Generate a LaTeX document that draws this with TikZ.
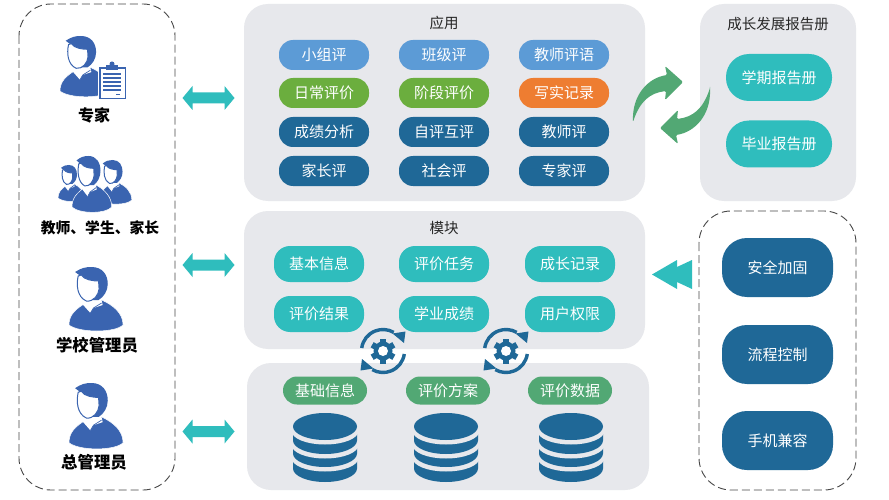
\documentclass[tikz,border=0pt]{standalone}
\usepackage{fontspec}
\setmainfont{Noto Sans CJK SC}
\definecolor{panelgrey}{HTML}{E7E8EC}
\definecolor{skyblue}{HTML}{5C9BD6}
\definecolor{leaf}{HTML}{6BAE3E}
\definecolor{amber}{HTML}{EE7D31}
\definecolor{deepblue}{HTML}{1F6897}
\definecolor{teal}{HTML}{2FBDBD}
\definecolor{moss}{HTML}{52A874}
\definecolor{people}{HTML}{3A64B0}
\tikzset{
  x=1pt,y=-1pt,
  panel/.style={fill=panelgrey,rounded corners=24pt},
  dashpanel/.style={draw=black!72,line width=0.9pt,dash pattern=on 8pt off 4pt,rounded corners=32pt},
  pill/.style={rounded corners=#1,text=white,font=\fontsize{15}{16}\selectfont,align=center,inner sep=0pt},
  smallpill/.style={pill=14pt,minimum width=90pt,minimum height=30pt},
  modpill/.style={pill=16pt,minimum width=90pt,minimum height=36pt,fill=teal},
  basepill/.style={pill=14pt,minimum width=84pt,minimum height=28pt,fill=moss},
  bigpill/.style={pill=25pt,minimum width=111pt,minimum height=59pt,fill=deepblue},
  reportpill/.style={pill=23pt,minimum width=106pt,minimum height=47pt,fill=teal},
  paneltitle/.style={text=black!85,font=\fontsize{14.5}{16}\selectfont,inner sep=0pt},
  role/.style={text=black,font=\fontsize{16.4}{18}\bfseries\selectfont,inner sep=0pt},
  person/.pic={
    \fill[people,draw=white,line width=0.5pt] (0,58) .. controls (0,48) and (6,42) .. (18,35) -- (32,33)
      .. controls (43,38) and (53,46) .. (53,58) .. controls (45,66) and (10,66) .. (0,58) -- cycle;
    \fill[white] (13,37) -- (20,31) -- (31,29) -- (33,38) -- (24,41) -- (21,46) -- cycle;
    \draw[people,line width=0.7pt] (21,46) -- (24,41) -- (32,36);
    \fill[people] (6,5) .. controls (12,1) and (16,0) .. (22,0) .. controls (33,0) and (38,8) .. (38,17)
      .. controls (38,24) and (34,30) .. (29,33) -- (20,33) -- (10,20) -- (10,8) -- cycle;
    \draw[people,fill=white,line width=1pt] (9,9) .. controls (7,18) and (8,30) .. (17,34)
      .. controls (24,35) and (29,28) .. (29.5,22) -- (29,14) .. controls (24,14) and (15,13) .. (12,8) -- cycle;
  },
  dbstack/.pic={
    \foreach \bot/\gapc in {56/32,41/19,28/5}{
      \fill[deepblue] (-32,\bot-22) -- (-32,\bot-13.5) arc[start angle=180,end angle=360,x radius=32,y radius=-13.5]
        -- (32,\bot-22) -- cycle;
      \fill[panelgrey] (0,\gapc) ellipse[x radius=33.5,y radius=13.5];
    }
    \fill[deepblue] (0,0.5) ellipse[x radius=32,y radius=13.5];
  },
  cyclegear/.pic={
    \begin{scope}[y=1pt]
      \draw[deepblue,line width=3.4pt] (172:21.5) arc[start angle=172,end angle=60,radius=21.5];
      \draw[deepblue,line width=3.4pt] (-8:21.5) arc[start angle=-8,end angle=-120,radius=21.5];
      \fill[deepblue] (22.5,19.5) -- (21,8) -- (9.5,17.5) -- cycle;
      \fill[deepblue] (-22.5,-19.5) -- (-21,-8) -- (-9.5,-17.5) -- cycle;
      \foreach \a in {0,60,...,300}{
        \fill[deepblue,rotate=\a] (-3,7) rectangle (3,12.5);
      }
      \fill[deepblue] (0,0) circle[radius=9.5];
      \fill[white] (0,0) circle[radius=5];
    \end{scope}
  },
  twoway/.pic={
    \fill[teal] (-26,0) -- (-16,-12) -- (-16,-5.5) -- (16,-5.5) -- (16,-12) -- (26,0)
      -- (16,12) -- (16,5.5) -- (-16,5.5) -- (-16,12) -- cycle;
  },
}
\newcommand{\turnarrow}{%
  (633,122) .. controls (632,95) and (648,78) .. (667,75) -- (665,66) -- (683,82) -- (665,100) -- (666,91)
  .. controls (650,93) and (640,101) .. (633,122) -- cycle}
\begin{document}
\begin{tikzpicture}
\useasboundingbox (0,0) rectangle (889,500);

% Panels
\fill[white] (0,0) rectangle (889,500);
\fill[panel] (244,4) rectangle (645,201);
\fill[panel] (700,4) rectangle (856,201);
\fill[panel] (244,211) rectangle (645,349);
\fill[panel] (247,363) rectangle (649,490);
\draw[dashpanel] (19,4) rectangle (175,490);
\draw[dashpanel] (699,211) rectangle (856,490);

% Panel titles
\node[paneltitle] (tapp) at (444,23) {应用};
\node[paneltitle] (tmod) at (444,228) {模块};
\node[paneltitle] (trep) at (778,24) {成长发展报告册};

% Application pills
\node[smallpill,fill=skyblue] (a11) at (324,55) {小组评};
\node[smallpill,fill=skyblue] (a12) at (444,55) {班级评};
\node[smallpill,fill=skyblue] (a13) at (564,55) {教师评语};
\node[smallpill,fill=leaf] (a21) at (324,93) {日常评价};
\node[smallpill,fill=leaf] (a22) at (444,93) {阶段评价};
\node[smallpill,fill=amber] (a23) at (564,93) {写实记录};
\node[smallpill,fill=deepblue] (a31) at (324,132) {成绩分析};
\node[smallpill,fill=deepblue] (a32) at (444,132) {自评互评};
\node[smallpill,fill=deepblue] (a33) at (564,132) {教师评};
\node[smallpill,fill=deepblue] (a41) at (324,171) {家长评};
\node[smallpill,fill=deepblue] (a42) at (444,171) {社会评};
\node[smallpill,fill=deepblue] (a43) at (564,171) {专家评};

% Module pills
\node[modpill] (m11) at (319,264) {基本信息};
\node[modpill] (m12) at (444,264) {评价任务};
\node[modpill] (m13) at (570,264) {成长记录};
\node[modpill] (m21) at (319,314) {评价结果};
\node[modpill] (m22) at (444,314) {学业成绩};
\node[modpill] (m23) at (570,314) {用户权限};

% Data layer
\node[basepill] (b1) at (325,390.5) {基础信息};
\node[basepill] (b2) at (448,390.5) {评价方案};
\node[basepill] (b3) at (570,390.5) {评价数据};
\pic at (325,426) {dbstack};
\pic at (446,426) {dbstack};
\pic at (571,426) {dbstack};

% Gears between module and data layers
\pic at (383,351) {cyclegear};
\pic at (506,351) {cyclegear};

% Report pills
\node[reportpill] (r1) at (779,77.5) {学期报告册};
\node[reportpill] (r2) at (779,144) {毕业报告册};

% Cross-cutting concerns
\node[bigpill] (c1) at (777.5,267.5) {安全加固};
\node[bigpill] (c2) at (777.5,354.5) {流程控制};
\node[bigpill] (c3) at (777.5,440.5) {手机兼容};

% Two-way arrows from roles to the layers
\pic at (208.5,98) {twoway};
\pic at (208.5,265) {twoway};
\pic at (208.5,431.5) {twoway};

% Double chevron into the module panel
\fill[teal] (652,274.5) -- (677,260) -- (677,267) -- (692,260) -- (692,289) -- (677,282) -- (677,289) -- cycle;

% Circular exchange arrows
\fill[moss,rounded corners=1.2pt] \turnarrow;
\begin{scope}[rotate around={180:(671.5,105)}]
  \fill[moss,rounded corners=1.2pt] \turnarrow;
\end{scope}

% Roles
\pic[scale=0.95] at (60,36) {person};
\fill[white] (98,62) rectangle (127.5,100.5);
\draw[people,fill=white,line width=1.5pt] (100,68) rectangle (125.5,98.5);
\fill[people] (106,65) rectangle (118,70);
\fill[people] (112,64) circle[radius=2.5];
\foreach \yy in {74,78,82,86,90}{\draw[people,line width=1.3pt] (103,\yy) -- (121,\yy);}
\draw[people,line width=1.3pt] (116,94.5) -- (120,94.5);
\node[role,font=\fontsize{16}{18}\bfseries\selectfont] (rexp) at (94,115) {专家};

\pic[xscale=0.5,yscale=0.57] at (58,165) {person};
\pic[xscale=0.62,yscale=0.69] at (99,160) {person};
\pic[xscale=0.75,yscale=0.88] at (72,156) {person};
\node[role,font=\fontsize{14.8}{16}\bfseries\selectfont] (rgrp) at (100,228) {教师、学生、家长};

\pic[xscale=1.02,yscale=1] at (69,267) {person};
\node[role] (rsch) at (97,345) {学校管理员};

\pic[xscale=1.02,yscale=1.03] at (69,383) {person};
\node[role] (radm) at (94,462) {总管理员};
\end{tikzpicture}
\end{document}
